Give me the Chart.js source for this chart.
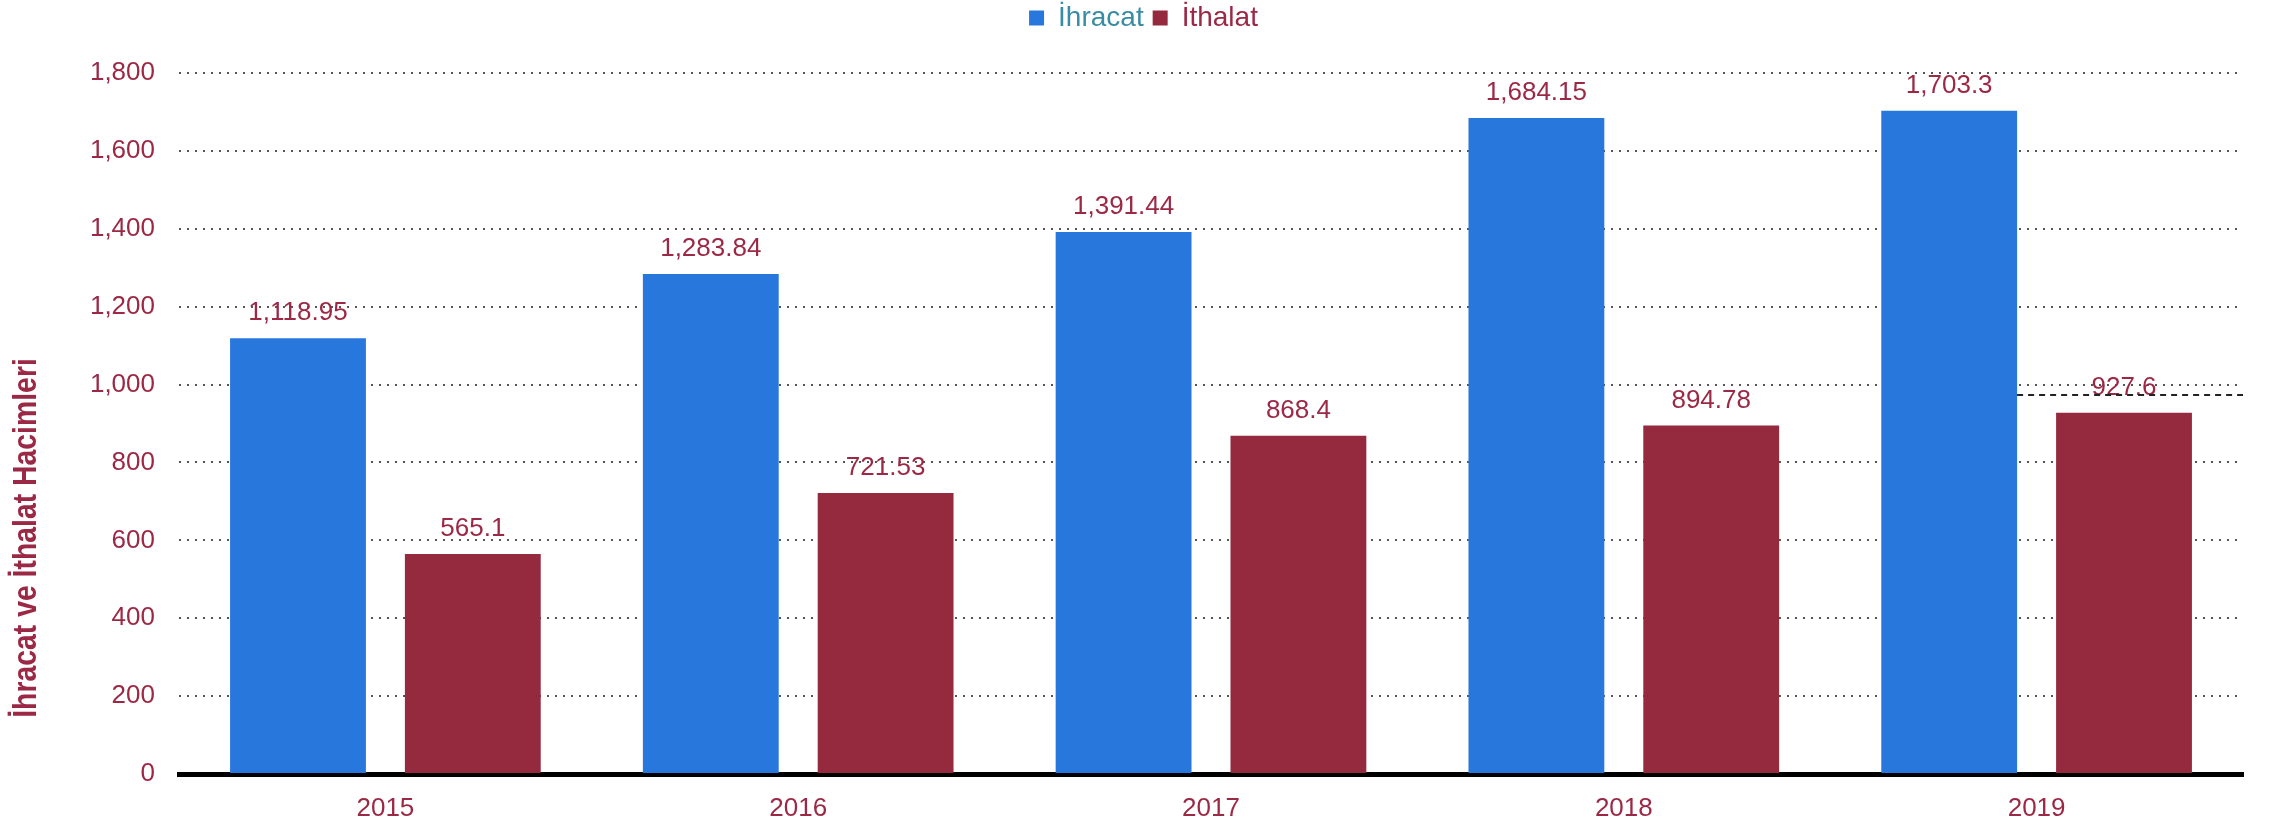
<!DOCTYPE html>
<html>
<head>
<meta charset="utf-8">
<script src="https://cdn.jsdelivr.net/npm/chart.js@4.4.1/dist/chart.umd.min.js"></script>
<style>
  html, body { margin: 0; padding: 0; background: #fff; }
  #wrap { width: 2277px; height: 823px; }
</style>
</head>
<body>
<div id="wrap"><canvas id="chart" width="2277" height="823"></canvas></div>
<script>
// Veriler
const years = ['2015', '2016', '2017', '2018', '2019'];
const ihracat = [1118.95, 1283.84, 1391.44, 1684.15, 1703.3];
const ithalat = [565.1, 721.53, 868.4, 894.78, 927.6];
const yMin = 0;
const yMax = 1800;
const yStep = 200;
const markerValue = 973; // kesikli cizgi (2019)
const yTitle = 'İhracat ve İthalat Hacimleri';

const BLUE = '#2877dd';
const RED = '#952a3f';
const MAROON = '#9b2945';
const TEAL = '#3a8ca3';
const FONT = '"Liberation Sans", Arial, sans-serif';

const fmt = (v) => v.toLocaleString('en-US', { maximumFractionDigits: 2 });

// Legend ile grafik arasi bosluk
const legendMargin = {
    id: 'legendMargin',
    beforeInit(chart) {
        const fit = chart.legend.fit;
        chart.legend.fit = function () {
            fit.bind(chart.legend)();
            this.height += 31;
        };
    }
};

// Bar uzerindeki degerler + kesikli cizgi
const valueLabels = {
    id: 'valueLabels',
    afterDatasetsDraw(chart) {
        const ctx = chart.ctx;
        ctx.save();
        ctx.font = '26px ' + FONT;
        ctx.fillStyle = MAROON;
        ctx.textAlign = 'center';
        ctx.textBaseline = 'alphabetic';
        chart.data.datasets.forEach((ds, i) => {
            chart.getDatasetMeta(i).data.forEach((bar, j) => {
                ctx.fillText(fmt(ds.data[j]), bar.x, bar.y - 18);
            });
        });

        const last = chart.getDatasetMeta(0).data[years.length - 1];
        const y = chart.scales.y.getPixelForValue(markerValue);
        ctx.strokeStyle = '#222';
        ctx.lineWidth = 2;
        ctx.setLineDash([6, 5]);
        ctx.beginPath();
        ctx.moveTo(last.x + last.width / 2, y);
        ctx.lineTo(chart.chartArea.right, y);
        ctx.stroke();
        ctx.restore();
    }
};

// Y ekseni basligi
const axisTitle = {
    id: 'axisTitle',
    afterDraw(chart) {
        const ctx = chart.ctx;
        ctx.save();
        ctx.translate(27, 538);
        ctx.rotate(-Math.PI / 2);
        ctx.scale(0.86, 1);
        ctx.font = 'bold 33px ' + FONT;
        ctx.fillStyle = MAROON;
        ctx.textAlign = 'center';
        ctx.textBaseline = 'middle';
        ctx.fillText(yTitle, 0, 0);
        ctx.restore();
    }
};

const ctx = document.getElementById('chart').getContext('2d');
new Chart(ctx, {
    type: 'bar',
    data: {
        labels: years,
        datasets: [
            { label: 'İhracat', data: ihracat, backgroundColor: BLUE, categoryPercentage: 0.847, barPercentage: 0.777 },
            { label: 'İthalat', data: ithalat, backgroundColor: RED, categoryPercentage: 0.847, barPercentage: 0.777 }
        ]
    },
    options: {
        responsive: false,
        animation: false,
        layout: { padding: { left: 44, right: 34, top: -5, bottom: 0 } },
        plugins: {
            legend: {
                position: 'top',
                labels: {
                    font: { size: 28, family: FONT },
                    boxWidth: 15,
                    boxHeight: 15,
                    padding: 9,
                    generateLabels: (chart) => chart.data.datasets.map((ds, i) => ({
                        text: ds.label,
                        fillStyle: ds.backgroundColor,
                        strokeStyle: ds.backgroundColor,
                        lineWidth: 0,
                        fontColor: i === 0 ? TEAL : MAROON,
                        datasetIndex: i,
                        hidden: false
                    }))
                }
            },
            tooltip: { enabled: false }
        },
        scales: {
            x: {
                grid: { display: false },
                border: { display: true, color: '#000', width: 5 },
                ticks: { color: MAROON, font: { size: 26, family: FONT }, padding: 11 },
                afterFit: (s) => { s.height = 49; }
            },
            y: {
                min: yMin,
                max: yMax,
                border: { display: false, dash: [2, 6] },
                grid: {
                    drawTicks: false,
                    lineWidth: 2,
                    color: (c) => c.tick && c.tick.value === 0 ? 'rgba(0,0,0,0)' : '#555'
                },
                ticks: {
                    stepSize: yStep,
                    color: MAROON,
                    font: { size: 26, family: FONT },
                    padding: 24,
                    callback: (v) => fmt(v)
                },
                afterFit: (s) => { s.width = 135; }
            }
        }
    },
    plugins: [legendMargin, valueLabels, axisTitle]
});
</script>
</body>
</html>
